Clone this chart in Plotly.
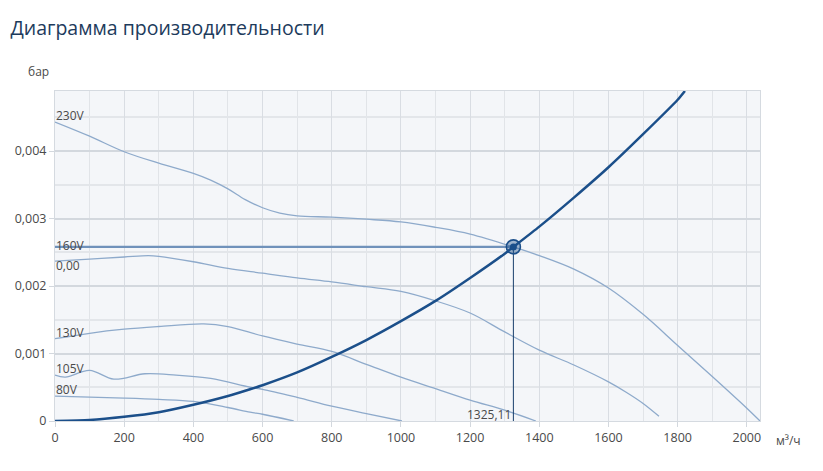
import plotly.graph_objects as go

# ---------------- data ----------------
x_230 = [0, 100, 200, 300, 400, 450, 500, 550, 600, 650, 700, 800, 900, 1000, 1100, 1200, 1325.11, 1400, 1500, 1600, 1700, 1800, 1900, 2000, 2038]
y_230 = [0.00443, 0.00422, 0.00399, 0.00382, 0.00367, 0.00357, 0.00344, 0.00328, 0.00316, 0.00308, 0.00304, 0.00302, 0.00299, 0.00295, 0.00287, 0.00277, 0.00258, 0.00245, 0.00225, 0.00197, 0.00158, 0.00112, 0.00066, 0.00019, 0.0]

x_000 = [0, 100, 200, 270, 300, 400, 500, 600, 700, 800, 900, 1000, 1100, 1200, 1300, 1400, 1500, 1600, 1650, 1700, 1746]
y_000 = [0.00237, 0.00240, 0.00243, 0.00245, 0.00244, 0.00236, 0.00226, 0.00219, 0.00212, 0.00206, 0.00199, 0.00192, 0.00178, 0.00160, 0.00132, 0.00105, 0.00083, 0.00058, 0.00043, 0.00026, 0.00007]

x_130 = [0, 100, 200, 300, 430, 500, 600, 700, 800, 900, 1000, 1100, 1200, 1300, 1390]
y_130 = [0.00122, 0.00130, 0.00136, 0.00140, 0.00144, 0.00140, 0.00126, 0.00114, 0.00103, 0.00084, 0.00065, 0.00048, 0.00031, 0.00016, 0.0]

x_105 = [0, 30, 100, 170, 260, 350, 450, 564, 600, 700, 800, 900, 1003]
y_105 = [0.00068, 0.00065, 0.00075, 0.00062, 0.00070, 0.00068, 0.00063, 0.00050, 0.00047, 0.00035, 0.00022, 0.00011, 0.0]

x_80 = [0, 200, 300, 400, 500, 564, 600, 690]
y_80 = [0.00037, 0.00034, 0.00032, 0.00029, 0.00020, 0.00013, 0.00010, 0.0]

x_sys = [0, 100, 200, 300, 400, 500, 564, 600, 700, 800, 900, 1000, 1100, 1200, 1300, 1325.11, 1400, 1500, 1600, 1700, 1800, 1821]
y_sys = [0.0, 0.000015, 0.000062, 0.00013, 0.00024, 0.00037, 0.00047, 0.00053, 0.00072, 0.00095, 0.00120, 0.00148, 0.00178, 0.00212, 0.00248, 0.00258, 0.00288, 0.00331, 0.00376, 0.00425, 0.00476, 0.00489]

op_x = 1325.11
op_y = 0.00258
op_label = "1325,11"

curve_labels = ["230V", "160V", "0,00", "130V", "105V", "80V"]

x_ticks = [0, 200, 400, 600, 800, 1000, 1200, 1400, 1600, 1800, 2000]
y_ticks = [0, 0.001, 0.002, 0.003, 0.004]
y_tick_text = ["0", "0,001", "0,002", "0,003", "0,004"]

title_text = "Диаграмма производительности"
y_unit = "бар"
x_unit = "м³/ч"

# ---------------- figure ----------------
curve_color = "#8eaacb"
sys_color = "#1b4f8a"
font_family = "Open Sans, Noto Sans, sans-serif"
text_color = "#4a4a4a"

fig = go.Figure()

for xs, ys in [(x_230, y_230), (x_000, y_000), (x_130, y_130), (x_105, y_105), (x_80, y_80)]:
    fig.add_trace(go.Scatter(x=xs, y=ys, mode="lines",
                             line=dict(color=curve_color, width=1.3, shape="spline", smoothing=1.0),
                             hoverinfo="skip", showlegend=False))

# horizontal operating line (160V)
fig.add_trace(go.Scatter(x=[0, op_x], y=[op_y, op_y], mode="lines",
                         line=dict(color="#7092bb", width=2.2), hoverinfo="skip", showlegend=False))
# vertical operating line
fig.add_trace(go.Scatter(x=[op_x, op_x], y=[0, op_y], mode="lines",
                         line=dict(color="#183f6c", width=1), hoverinfo="skip", showlegend=False))

# system curve
fig.add_trace(go.Scatter(x=x_sys, y=y_sys, mode="lines",
                         line=dict(color=sys_color, width=2.5, shape="spline", smoothing=0.6),
                         hoverinfo="skip", showlegend=False))

# operating point marker
fig.add_trace(go.Scatter(x=[op_x], y=[op_y], mode="markers",
                         marker=dict(size=14, color="rgba(27,79,138,0.40)", line=dict(color=sys_color, width=1.6)),
                         hoverinfo="skip", showlegend=False))
fig.add_trace(go.Scatter(x=[op_x], y=[op_y], mode="markers",
                         marker=dict(size=7, color=sys_color, line=dict(width=0)),
                         hoverinfo="skip", showlegend=False))

label_y = [y_230[0], op_y, y_000[0], y_130[0], y_105[0], y_80[0]]
label_shift = [7, 1, -4, 6, 7, 7]
for txt, yv, sh in zip(curve_labels, label_y, label_shift):
    fig.add_annotation(x=0, y=yv, text=txt, showarrow=False, xanchor="left", yanchor="middle",
                       xshift=-1, yshift=sh, font=dict(size=12, color=text_color, family=font_family))

fig.add_annotation(x=op_x, y=0, text=op_label, showarrow=False, xanchor="right", yanchor="middle",
                   yshift=7, xshift=0, font=dict(size=12, color=text_color, family=font_family))

fig.add_annotation(xref="paper", yref="paper", x=-0.0234, y=1.0576, text=y_unit, showarrow=False,
                   xanchor="center", yanchor="middle", font=dict(size=12, color=text_color, family=font_family))
fig.add_annotation(xref="paper", yref="paper", x=1.0199, y=-0.0576, text=x_unit, showarrow=False,
                   xanchor="left", yanchor="middle", font=dict(size=12, color=text_color, family=font_family))

# the page body adds an 8px offset, so the figure is sized to fit the window
fig.update_layout(
    width=815, height=463,
    margin=dict(l=47, r=63, t=83, b=50, autoexpand=False),
    paper_bgcolor="white",
    plot_bgcolor="#f4f6f9",
    title=dict(text=title_text, xref="container", yref="container", x=0.003, y=0.957,
               xanchor="left", yanchor="middle",
               font=dict(size=19.5, color="#1d3b5c", family=font_family)),
    font=dict(family=font_family, size=12, color=text_color),
    showlegend=False,
)

fig.update_xaxes(range=[0, 2038], tickvals=x_ticks, ticks="outside", ticklen=5, tickcolor="#d3d8de",
                 showgrid=True, gridcolor="#d9dde3", gridwidth=1,
                 minor=dict(dtick=100, tick0=0, showgrid=True, gridcolor="#e1e4e8", gridwidth=1),
                 showline=True, mirror=True, linecolor="#d5dae0", linewidth=1, automargin=False,
                 zeroline=False, tickfont=dict(size=12.5, color=text_color), fixedrange=True)
fig.update_yaxes(range=[0, 0.00489], tickvals=y_ticks, ticktext=y_tick_text, ticks="outside", ticklen=5,
                 tickcolor="#d3d8de", automargin=False,
                 showgrid=True, gridcolor="#d3d8de", gridwidth=1.5,
                 minor=dict(dtick=0.0005, tick0=0, showgrid=True, gridcolor="#e3e6ea", gridwidth=1.5),
                 showline=True, mirror=True, linecolor="#d5dae0", linewidth=1,
                 zeroline=False, tickfont=dict(size=12.5, color=text_color), fixedrange=True)

fig.write_html("out.html")
